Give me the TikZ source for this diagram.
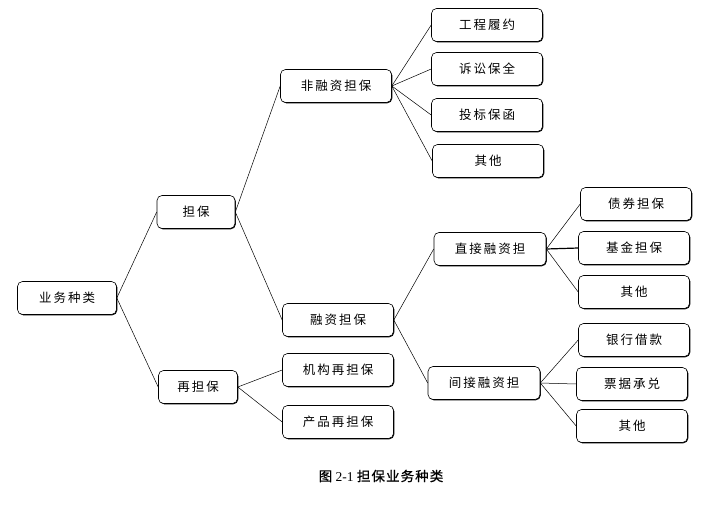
\documentclass[tikz,border=0pt]{standalone}
\usepackage{fontspec}
\setmainfont{Liberation Serif}
\newfontfamily\cjk[LetterSpace=16]{Noto Sans CJK SC}
\newfontfamily\cjkcap[FakeBold=0.7, LetterSpace=8]{Noto Sans CJK SC}
\usetikzlibrary{shadows}

\tikzset{
    box/.style={draw, fill=white, rounded corners=5pt, line width=0.6pt,
        minimum width=111pt, minimum height=33pt, inner sep=0pt,
        font=\cjk\fontsize{12.5}{14}\selectfont,
        drop shadow={shadow xshift=0.8pt, shadow yshift=-0.8pt, fill=black, opacity=1}},
    link/.style={line width=0.5pt}
}

\begin{document}
\begin{tikzpicture}[x=1pt, y=-1pt]
    \useasboundingbox (0,0) rectangle (726,506);
    % level 0 and 1
    \node[box, minimum width=99pt] (root) at (67,298) {业务种类};
    \node[box, minimum width=78pt] (db) at (196,212) {担保};
    \node[box, minimum width=79pt] (zdb) at (198,387) {再担保};
    % level 2
    \node[box] (frz) at (336,86) {非融资担保};
    \node[box] (rz) at (338,320) {融资担保};
    \node[box] (jg) at (338,370) {机构再担保};
    \node[box] (cp) at (338,422) {产品再担保};
    % level 3
    \node[box] (gc) at (487,25) {工程履约};
    \node[box] (ss) at (487,69) {诉讼保全};
    \node[box] (tb) at (487,115) {投标保函};
    \node[box] (qt1) at (488,161) {其他};
    \node[box, minimum width=112pt] (zj) at (490,249) {直接融资担};
    \node[box, minimum width=112pt] (jj) at (484,383) {间接融资担};
    % level 4
    \node[box] (zq) at (636,204) {债券担保};
    \node[box] (jjdb) at (634,248) {基金担保};
    \node[box] (qt2) at (634,292) {其他};
    \node[box] (yh) at (634,340) {银行借款};
    \node[box] (pj) at (632,384) {票据承兑};
    \node[box] (qt3) at (632,426) {其他};
    % caption
    \node (cap) at (381,476) {\fontsize{13.5}{15}\selectfont{\cjkcap 图} 2-1 {\cjkcap 担保业务种类}};

    \draw[link] (root.east) -- (db.west);
    \draw[link] (root.east) -- (zdb.west);
    \draw[link] (db.east) -- (frz.west);
    \draw[link] (db.east) -- (rz.west);
    \draw[link] (zdb.east) -- (jg.west);
    \draw[link] (zdb.east) -- (cp.west);
    \draw[link] (frz.east) -- (gc.west);
    \draw[link] (frz.east) -- (ss.west);
    \draw[link] (frz.east) -- (tb.west);
    \draw[link] (frz.east) -- (qt1.west);
    \draw[link] (rz.east) -- (zj.west);
    \draw[link] (rz.east) -- (jj.west);
    \draw[link] (zj.east) -- (zq.west);
    \draw[link, line width=1.2pt] (zj.east) -- (jjdb.west);
    \draw[link] (zj.east) -- (qt2.west);
    \draw[link] (jj.east) -- (yh.west);
    \draw[link] (jj.east) -- (pj.west);
    \draw[link] (jj.east) -- (qt3.west);
\end{tikzpicture}
\end{document}
